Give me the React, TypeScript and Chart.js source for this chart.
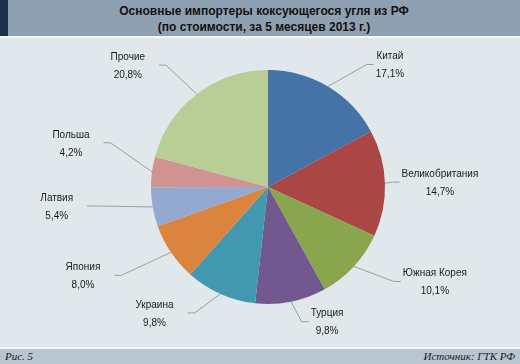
import React, { useEffect, useRef } from "react";
import { Chart, registerables } from "chart.js";

Chart.register(...registerables);

const categories = [
  "Китай",
  "Великобритания",
  "Южная Корея",
  "Турция",
  "Украина",
  "Япония",
  "Латвия",
  "Польша",
  "Прочие",
];
const shares = [17.1, 14.7, 10.1, 9.8, 9.8, 8.0, 5.4, 4.2, 20.8];
const sliceColors = [
  "#4572a7",
  "#aa4643",
  "#89a54e",
  "#71588f",
  "#4198af",
  "#db843d",
  "#93a9cf",
  "#d19392",
  "#b9cd96",
];
const titleLines = [
  "Основные импортеры коксующегося угля из РФ",
  "(по стоимости, за 5 месяцев 2013 г.)",
];
const figureLabel = "Рис. 5";
const sourceLabel = "Источник: ГТК РФ";

// label placement relative to the slice's outer edge point (layout only)
const labelOffsets: [number, number][] = [
  [62, -21],
  [55, 0],
  [81, 16],
  [36, 21],
  [-66, 20],
  [-88, 24],
  [-96, 0],
  [-81, -28],
  [-69, -28],
];

const fmt = (v: number) => v.toFixed(1).replace(".", ",") + "%";

const outLabels = {
  id: "outLabels",
  afterDatasetsDraw(chart: any) {
    const ctx = chart.ctx;
    const meta = chart.getDatasetMeta(0);
    ctx.save();
    meta.data.forEach((arc: any, i: number) => {
      const p = arc.getProps(["x", "y", "startAngle", "endAngle", "outerRadius"], true);
      const mid = (p.startAngle + p.endAngle) / 2;
      const px = p.x + Math.cos(mid) * p.outerRadius;
      const py = p.y + Math.sin(mid) * p.outerRadius;
      const lx = px + labelOffsets[i][0];
      const ly = py + labelOffsets[i][1];
      ctx.font = '10px "Liberation Sans", Arial, sans-serif';
      const name = categories[i];
      const pct = fmt(shares[i]);
      const w = Math.max(ctx.measureText(name).width, ctx.measureText(pct).width) / 2;
      const right = lx > px;
      const ex = right ? lx - w - 2 : lx + w + 14;
      const ey = ly - 1;
      const kx = right ? ex - 7 : ex + 7;
      ctx.strokeStyle = "#8a8a8a";
      ctx.lineWidth = 0.8;
      ctx.beginPath();
      ctx.moveTo(px, py);
      ctx.lineTo(kx, ey);
      ctx.lineTo(ex, ey);
      ctx.stroke();
      ctx.fillStyle = "#1a1a1a";
      ctx.textAlign = "center";
      ctx.textBaseline = "middle";
      ctx.fillText(name, lx, ly - 9);
      ctx.fillText(pct, lx, ly + 9);
    });
    ctx.restore();
  },
};

export default function App() {
  const ref = useRef<HTMLCanvasElement>(null);
  useEffect(() => {
    document.body.style.margin = "0";
    if (!ref.current) return;
    const chart = new Chart(ref.current, {
      type: "pie",
      data: {
        labels: categories,
        datasets: [
          {
            data: shares,
            backgroundColor: sliceColors,
            borderWidth: 0,
          },
        ],
      },
      options: {
        responsive: false,
        animation: false,
        layout: { padding: { top: 32, bottom: 43, left: 151, right: 135 } },
        plugins: {
          legend: { display: false },
          tooltip: { enabled: false },
        },
      },
      plugins: [outLabels],
    });
    return () => chart.destroy();
  }, []);

  return (
    <div
      style={{
        position: "absolute",
        left: 0,
        top: 0,
        width: 520,
        height: 364,
        background: "#f4f6f7",
        overflow: "hidden",
      }}
    >
      <div
        style={{
          position: "absolute",
          left: 0,
          top: 0,
          width: 520,
          height: 36,
          background: "#8fa0b2",
        }}
      >
        <div
          style={{
            position: "absolute",
            left: 0,
            top: 0,
            width: 8,
            height: 36,
            background: "#1d3249",
          }}
        />
        <div
          style={{
            position: "absolute",
            left: 8,
            right: 0,
            top: 3,
            textAlign: "center",
            font: 'bold 12px "Liberation Sans", Arial, sans-serif',
            lineHeight: "16px",
            color: "#111",
          }}
        >
          {titleLines.map((t) => (
            <div key={t}>{t}</div>
          ))}
        </div>
      </div>
      <div
        style={{
          position: "absolute",
          left: 0,
          top: 38,
          width: 520,
          height: 309,
          background: "#e1e8eb",
        }}
      >
        <canvas ref={ref} width={520} height={309} style={{ display: "block", width: 520, height: 309 }} />
      </div>
      <div
        style={{
          position: "absolute",
          left: 0,
          top: 349,
          width: 520,
          height: 15,
          background: "#b9c6d1",
          font: 'italic 11px "Liberation Serif", "Times New Roman", serif',
          color: "#1a1a1a",
          lineHeight: "15px",
        }}
      >
        <span style={{ position: "absolute", left: 5, top: 0 }}>{figureLabel}</span>
        <span style={{ position: "absolute", right: 5, top: 0 }}>{sourceLabel}</span>
      </div>
    </div>
  );
}
